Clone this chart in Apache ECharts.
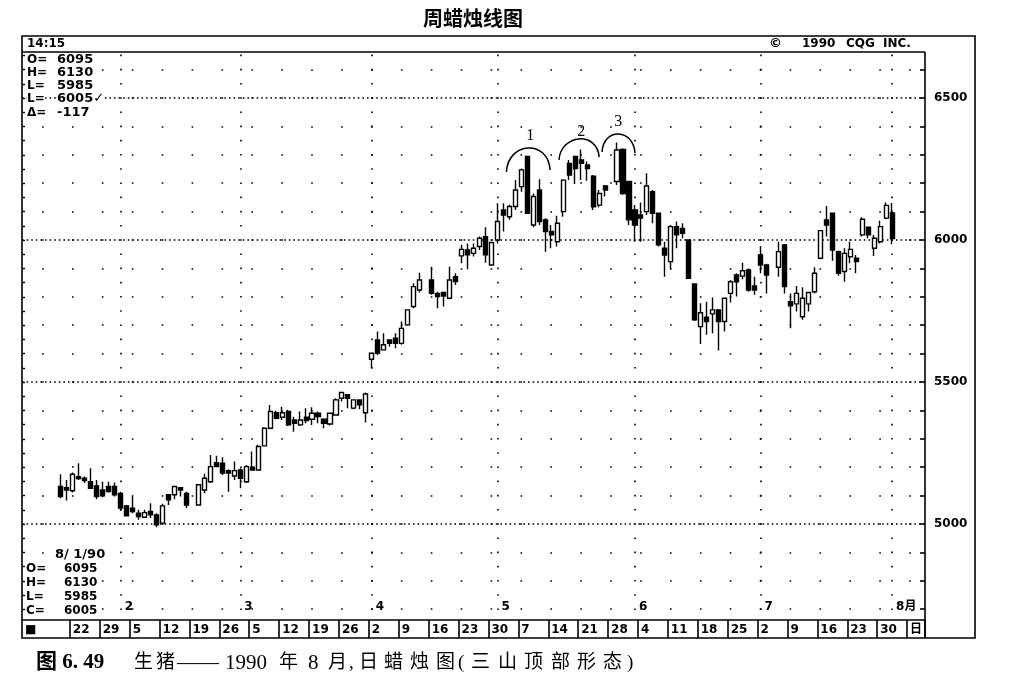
<!DOCTYPE html>
<html lang="zh-CN">
<head>
  <meta charset="UTF-8">
  <title>周蜡烛线图</title>
  <script src="https://cdn.jsdelivr.net/npm/echarts@6/dist/echarts.min.js"></script>
  <style>html,body{margin:0;padding:0;background:#fff;}</style>
</head>
<body>
  <div id="chart" style="width:1023px;height:685px;"></div>
  <script>
    // trading calendar (weekdays), first candle on Jan 18
    var calendarStart = '1990-01-10';
    var calendarEnd = '1990-08-08';
    var firstCandle = '1990-01-18';

    // daily candles [open, close, low, high], null = holiday
    var jan = [
      [5132, 5097, 5091, 5175], [5128, 5120, 5083, 5155], [5117, 5175, 5111, 5181],
      [5167, 5160, 5155, 5214], [5161, 5153, 5144, 5167], [5149, 5126, 5126, 5196],
      [5134, 5097, 5087, 5155], [5120, 5099, 5094, 5149], [5132, 5114, 5111, 5149],
      [5132, 5103, 5097, 5146]
    ];
    var feb = [
      [5108, 5056, 5047, 5114], [5064, 5029, 5026, 5067], [5056, 5044, 5038, 5097],
      [5038, 5026, 5015, 5050], [5024, 5040, 5021, 5050], [5044, 5032, 5021, 5073],
      [5032, 4997, 4989, 5038], [5003, 5064, 4997, 5071], [5103, 5085, 5067, 5103],
      [5103, 5132, 5087, 5134], [5128, 5120, 5097, 5128], [5108, 5067, 5056, 5114],
      null,
      [5067, 5138, 5064, 5138], [5120, 5161, 5108, 5177], [5149, 5202, 5144, 5243],
      [5216, 5202, 5200, 5240], [5214, 5179, 5173, 5235], [5188, 5179, 5114, 5193],
      [5169, 5188, 5155, 5220]
    ];
    var mar = [
      [5190, 5161, 5126, 5196], [5149, 5202, 5144, 5208], [5200, 5190, 5190, 5255],
      [5190, 5273, 5188, 5279], [5275, 5337, 5273, 5341], [5337, 5396, 5334, 5419],
      [5392, 5372, 5369, 5399], [5376, 5392, 5366, 5413], [5396, 5349, 5345, 5402],
      [5366, 5355, 5325, 5378], [5349, 5366, 5345, 5396], [5376, 5364, 5355, 5408],
      [5369, 5390, 5349, 5411], [5390, 5378, 5355, 5396], [5369, 5355, 5337, 5372],
      [5352, 5390, 5347, 5392], [5384, 5437, 5381, 5443], [5443, 5463, 5431, 5466],
      [5455, 5443, 5408, 5455], [5408, 5437, 5404, 5439], [5437, 5420, 5404, 5439],
      [5392, 5458, 5357, 5463]
    ];
    var apr = [
      [5580, 5601, 5548, 5604], [5648, 5601, 5595, 5678], [5613, 5631, 5611, 5672],
      [5648, 5636, 5625, 5650], [5654, 5636, 5619, 5672], [5636, 5689, 5631, 5713],
      [5701, 5754, 5698, 5756], [5766, 5836, 5760, 5848], [5824, 5859, 5815, 5885],
      null,
      [5859, 5812, 5807, 5906], [5812, 5801, 5760, 5818], [5815, 5803, 5766, 5815],
      [5795, 5859, 5791, 5906], [5871, 5854, 5842, 5883], [5944, 5967, 5918, 5983],
      [5965, 5948, 5897, 5988], [5953, 5971, 5942, 5988], [5977, 6006, 5965, 6012],
      [6012, 5948, 5920, 6045], [5912, 5991, 5909, 5994]
    ];
    var may = [
      [6000, 6065, 5988, 6129], [6106, 6088, 6030, 6129], [6082, 6118, 6071, 6124],
      [6118, 6176, 6106, 6211], [6188, 6247, 6170, 6252], [6294, 6094, 6092, 6296],
      [6053, 6153, 6045, 6164], [6176, 6065, 6053, 6214], [6071, 6030, 5959, 6077],
      [6030, 6018, 5971, 6053], [5994, 6059, 5977, 6085], [6100, 6211, 6082, 6214],
      [6270, 6229, 6211, 6282], [6294, 6252, 6197, 6294], [6282, 6270, 6211, 6319],
      [6264, 6252, 6209, 6276], [6225, 6117, 6106, 6229], [6123, 6164, 6115, 6176],
      [6190, 6176, 6153, 6194],
      null,
      [6206, 6317, 6194, 6343], [6319, 6164, 6159, 6323], [6206, 6071, 6053, 6209]
    ];
    var jun = [
      [6106, 6053, 5994, 6123], [6088, 6077, 5994, 6132], [6100, 6190, 6088, 6235],
      [6170, 6094, 6059, 6176], [6094, 5983, 5977, 6094], [5971, 5947, 5871, 5994],
      [5924, 6047, 5897, 6053], [6047, 6018, 5971, 6065], [6041, 6024, 6006, 6059],
      [6000, 5865, 5863, 6003], [5845, 5719, 5715, 5848], [5695, 5744, 5634, 5777],
      [5728, 5713, 5666, 5783], [5740, 5754, 5672, 5798], [5754, 5713, 5611, 5754],
      [5713, 5795, 5678, 5798], [5812, 5853, 5780, 5859], [5877, 5853, 5801, 5883],
      [5873, 5892, 5862, 5920], [5895, 5824, 5818, 5900], [5838, 5824, 5807, 5871]
    ];
    var jul = [
      [5947, 5912, 5883, 5979], [5912, 5877, 5812, 5916],
      null,
      [5904, 5959, 5871, 5994], [5983, 5836, 5812, 5986], [5783, 5768, 5689, 5812],
      [5775, 5812, 5748, 5838], [5730, 5795, 5719, 5834], [5775, 5815, 5748, 5818],
      [5818, 5883, 5812, 5904], [5936, 6033, 5932, 6035], [6071, 6053, 6012, 6120],
      [6094, 5965, 5927, 6094], [5959, 5883, 5874, 5963], [5889, 5953, 5853, 5971],
      [5941, 5967, 5918, 5994], [5936, 5924, 5883, 5947], [6018, 6073, 6012, 6080],
      [6045, 6018, 6006, 6047], [5971, 6006, 5944, 6018], [5994, 6047, 5988, 6068],
      [6077, 6122, 6073, 6132]
    ];
    var aug = [
      [6095, 6005, 5985, 6130]
    ];

    var priceMin = 4662;
    var priceMax = 6662;
    var priceLabels = [5000, 5500, 6000, 6500];
    var monthStarts = ['1990-02-01', '1990-03-01', '1990-04-02', '1990-05-01', '1990-06-01', '1990-07-02', '1990-08-01'];
    var monthLabels = ['2', '3', '4', '5', '6', '7', '8月'];
    var firstWeekLabel = '1990-01-22';
    var dayLabelWeek = '1990-08-06';

    // "three mountains" arcs: [date, fraction of a day]
    var peaks = [
      {label: '1', from: ['1990-05-02', 0.5], to: ['1990-05-11', 0.8], ends: [6240, 6247], top: 6324, at: ['1990-05-08', 0.5, 6366]},
      {label: '2', from: ['1990-05-15', 0.3], to: ['1990-05-24', 0.0], ends: [6282, 6292], top: 6356, at: ['1990-05-21', 0.0, 6380]},
      {label: '3', from: ['1990-05-24', 0.5], to: ['1990-06-01', 0.0], ends: [6310, 6306], top: 6373, at: ['1990-05-29', 0.2, 6415]}
    ];

    // caption pieces: text, left edge, size
    var captionPieces = [
      ['生', 134, 19], ['猪', 156, 19], ['——', 177, 21], ['1990', 225, 21], ['年', 279, 19], ['8', 308, 21], ['月', 328, 19],
      [',', 349, 19], ['日', 359, 19], ['蜡', 384, 19], ['烛', 410, 19], ['图', 436, 19], ['(', 458, 19], ['三', 471, 19],
      ['山', 498, 19], ['顶', 524, 19], ['部', 551, 19], ['形', 577, 19], ['态', 603, 19], [')', 627, 19]
    ];

    function pad(n) { return n < 10 ? '0' + n : '' + n; }
    function toDate(s) { return new Date(s + 'T00:00:00Z'); }
    function weekdays(from, to) {
      var out = [];
      var d = toDate(from), end = toDate(to);
      while (d <= end) {
        var wd = d.getUTCDay();
        if (wd > 0 && wd < 6) {
          out.push(d.getUTCFullYear() + '-' + pad(d.getUTCMonth() + 1) + '-' + pad(d.getUTCDate()));
        }
        d.setUTCDate(d.getUTCDate() + 1);
      }
      return out;
    }
    function range(a, b, step) {
      var out = [];
      for (var v = a; v <= b; v += step) out.push(v);
      return out;
    }
    function isMonday(s) { return toDate(s).getUTCDay() === 1; }

    var days = weekdays(calendarStart, calendarEnd);
    var rows = [].concat(jan, feb, mar, apr, may, jun, jul, aug);
    var start = days.indexOf(firstCandle);
    var candles = days.map(function (d, i) {
      var r = rows[i - start];
      return (i >= start && r) ? r : '-';
    });

    var last = aug[aug.length - 1];
    var prevClose = jul[jul.length - 1][1];
    var lastDay = toDate(days[start + rows.length - 1]);

    function isWeekBox(i) {
      return isMonday(days[i]) && days[i] >= firstWeekLabel;
    }

    var ink = '#000';
    var cqg = '"DejaVu Sans", "Noto Sans CJK SC", sans-serif';
    var book = '"Liberation Serif", "Noto Sans CJK SC", serif';

    function txt(x, y, s, size, extra) {
      var o = {
        type: 'text', z: 50, x: x, y: y,
        style: {
          text: s, fill: ink, fontSize: size || 12, fontWeight: 'bold',
          fontFamily: cqg, verticalAlign: 'middle', backgroundColor: '#fff'
        }
      };
      if (extra) for (var k in extra) o.style[k] = extra[k];
      return o;
    }

    var chart = echarts.init(document.getElementById('chart'));

    var graphics = [
      {type: 'rect', z: 60, shape: {x: 22, y: 36, width: 953, height: 602}, style: {fill: 'none', stroke: ink, lineWidth: 1.6}},
      {type: 'line', z: 60, shape: {x1: 22, y1: 52, x2: 925, y2: 52}, style: {stroke: ink, lineWidth: 1.6}},
      {type: 'line', z: 60, shape: {x1: 925, y1: 52, x2: 925, y2: 638}, style: {stroke: ink, lineWidth: 1.6}},
      {type: 'text', z: 50, x: 473, y: 18, style: {text: '周蜡烛线图', fill: ink, fontSize: 20, fontWeight: 'bold',
        fontFamily: '"Noto Sans CJK SC", sans-serif', align: 'center', verticalAlign: 'middle'}},
      txt(27, 44, '14:15', 12),
      txt(769, 44, '©', 13), txt(802, 44, '1990', 12), txt(846, 44, 'CQG', 12), txt(883, 44, 'INC.', 12),
      // quote box, top left
      txt(27, 60, 'O=', 12), txt(57, 60, String(last[0]), 13),
      txt(27, 73, 'H=', 12), txt(57, 73, String(last[3]), 13),
      txt(27, 86, 'L=', 12), txt(57, 86, String(last[2]), 13),
      txt(27, 99, 'L=', 12), txt(57, 99, last[1] + '✓', 13),
      txt(27, 113, 'Δ=', 12), txt(57, 113, String(last[1] - prevClose), 13),
      // quote box, bottom left
      txt(55, 555, (lastDay.getUTCMonth() + 1) + '/ ' + lastDay.getUTCDate() + '/' + String(lastDay.getUTCFullYear()).slice(2), 13),
      txt(26, 569, 'O=', 12), txt(64, 569, String(last[0]), 12),
      txt(26, 583, 'H=', 12), txt(64, 583, String(last[3]), 12),
      txt(26, 597, 'L=', 12), txt(64, 597, String(last[2]), 12),
      txt(26, 611, 'C=', 12), txt(64, 611, String(last[1]), 12),
      // caption
      {type: 'text', z: 50, x: 36, y: 663, style: {text: '图 6. 49', fill: ink, fontSize: 21, fontWeight: 'bold',
        fontFamily: book, verticalAlign: 'middle'}}
    ];
    captionPieces.forEach(function (p) {
      graphics.push({type: 'text', z: 50, x: p[1], y: 663, style: {text: p[0], fill: ink, fontSize: p[2],
        fontFamily: book, verticalAlign: 'middle'}});
    });

    var options = {
      animation: false,
      backgroundColor: '#fff',
      grid: {left: 22, top: 52, width: 903, height: 568, containLabel: false},
      xAxis: [
        {
          // date bar with weekly boxes
          type: 'category',
          data: days,
          position: 'bottom',
          axisLine: {show: true, lineStyle: {color: ink, width: 1.6}},
          axisTick: {
            show: true, length: 18, inside: false,
            interval: function (i) { return isWeekBox(i); },
            lineStyle: {color: ink, width: 1.6}
          },
          axisLabel: {
            show: true, margin: 4, align: 'left', color: ink,
            fontSize: 12, fontWeight: 'bold', fontFamily: cqg,
            interval: function (i) { return i === 0 || isWeekBox(i); },
            formatter: function (v, i) {
              if (i === 0) return '■';
              if (v === dayLabelWeek) return '日';
              return String(toDate(v).getUTCDate());
            }
          },
          splitLine: {show: false}
        },
        {
          // month lines
          type: 'category',
          data: days,
          position: 'bottom',
          axisLine: {show: false},
          axisTick: {show: false},
          axisLabel: {
            show: true, inside: true, margin: 7, align: 'left', color: ink,
            fontSize: 12, fontWeight: 'bold', fontFamily: cqg, padding: [0, 0, 0, 4],
            interval: function (i) { return monthStarts.indexOf(days[i]) >= 0; },
            formatter: function (v) { return monthLabels[monthStarts.indexOf(v)]; }
          },
          splitLine: {
            show: true, alignWithLabel: true,
            interval: function (i) { return monthStarts.indexOf(days[i]) >= 0; },
            lineStyle: {color: ink, width: 1.6, type: [1.6, 12.6], dashOffset: 11.6}
          }
        }
      ],
      yAxis: [
        {
          type: 'value', position: 'right', min: priceMin, max: priceMax,
          axisLine: {show: false},
          axisTick: {show: true, inside: true, length: 5, customValues: range(4700, 6600, 100),
            lineStyle: {color: ink, width: 1.6}},
          axisLabel: {show: true, customValues: priceLabels, margin: 9, color: ink,
            fontSize: 12, fontWeight: 'bold', fontFamily: cqg,
            formatter: function (v) { return String(v); }},
          splitLine: {show: false}
        },
        {
          // dense dotted price lines
          type: 'value', position: 'right', min: priceMin, max: priceMax,
          axisLine: {show: false},
          axisTick: {show: false, customValues: priceLabels},
          axisLabel: {show: false},
          splitLine: {show: true, lineStyle: {color: ink, width: 1.6, type: [1.6, 3]}}
        },
        {
          // weekly dot grid every 100 points
          type: 'value', position: 'left', min: priceMin, max: priceMax,
          axisLine: {show: false},
          axisTick: {show: false, customValues: range(4700, 6600, 100)},
          axisLabel: {show: false},
          splitLine: {show: true, lineStyle: {color: ink, width: 1.6, type: [1.6, 28.3], dashOffset: 9.8}}
        },
        {
          // left edge ticks
          type: 'value', position: 'left', min: priceMin, max: priceMax,
          axisLine: {show: false},
          axisTick: {show: true, inside: true, length: 3, customValues: range(4700, 6650, 50),
            lineStyle: {color: ink, width: 1.4}},
          axisLabel: {show: false},
          splitLine: {show: false}
        }
      ],
      series: [
        {
          type: 'candlestick',
          xAxisIndex: 0,
          yAxisIndex: 0,
          data: candles,
          barWidth: 4.6,
          z: 10,
          itemStyle: {
            color: '#fff', color0: ink,
            borderColor: ink, borderColor0: ink,
            borderWidth: 1.4
          },
          emphasis: {disabled: true}
        }
      ],
      graphic: graphics
    };

    chart.setOption(options);

    // arcs over the three tops, placed through the axes
    function px(dateFrac, v) {
      var i = days.indexOf(dateFrac[0]);
      var p0 = chart.convertToPixel({xAxisIndex: 0, yAxisIndex: 0}, [i, v]);
      var p1 = chart.convertToPixel({xAxisIndex: 0, yAxisIndex: 0}, [i + 1, v]);
      return [p0[0] + (p1[0] - p0[0]) * dateFrac[1], p0[1]];
    }
    var arcs = [];
    peaks.forEach(function (p) {
      var a = px(p.from, p.ends[0]);
      var b = px(p.to, p.ends[1]);
      var t = px(p.from, p.top)[1];
      var h = ((a[1] + b[1]) / 2 - t) / 0.75;
      var w = b[0] - a[0];
      arcs.push({
        type: 'bezierCurve', z: 40,
        shape: {x1: a[0], y1: a[1], x2: b[0], y2: b[1],
          cpx1: a[0] + w * 0.04, cpy1: a[1] - h, cpx2: b[0] - w * 0.04, cpy2: b[1] - h},
        style: {stroke: ink, lineWidth: 1.5, fill: 'none'}
      });
      var l = px([p.at[0], p.at[1]], p.at[2]);
      arcs.push({
        type: 'text', z: 40, x: l[0], y: l[1],
        style: {text: p.label, fill: ink, fontSize: 16, fontFamily: '"Liberation Serif", serif',
          align: 'center', verticalAlign: 'middle'}
      });
    });
    chart.setOption({graphic: graphics.concat(arcs)});
  </script>
</body>
</html>
